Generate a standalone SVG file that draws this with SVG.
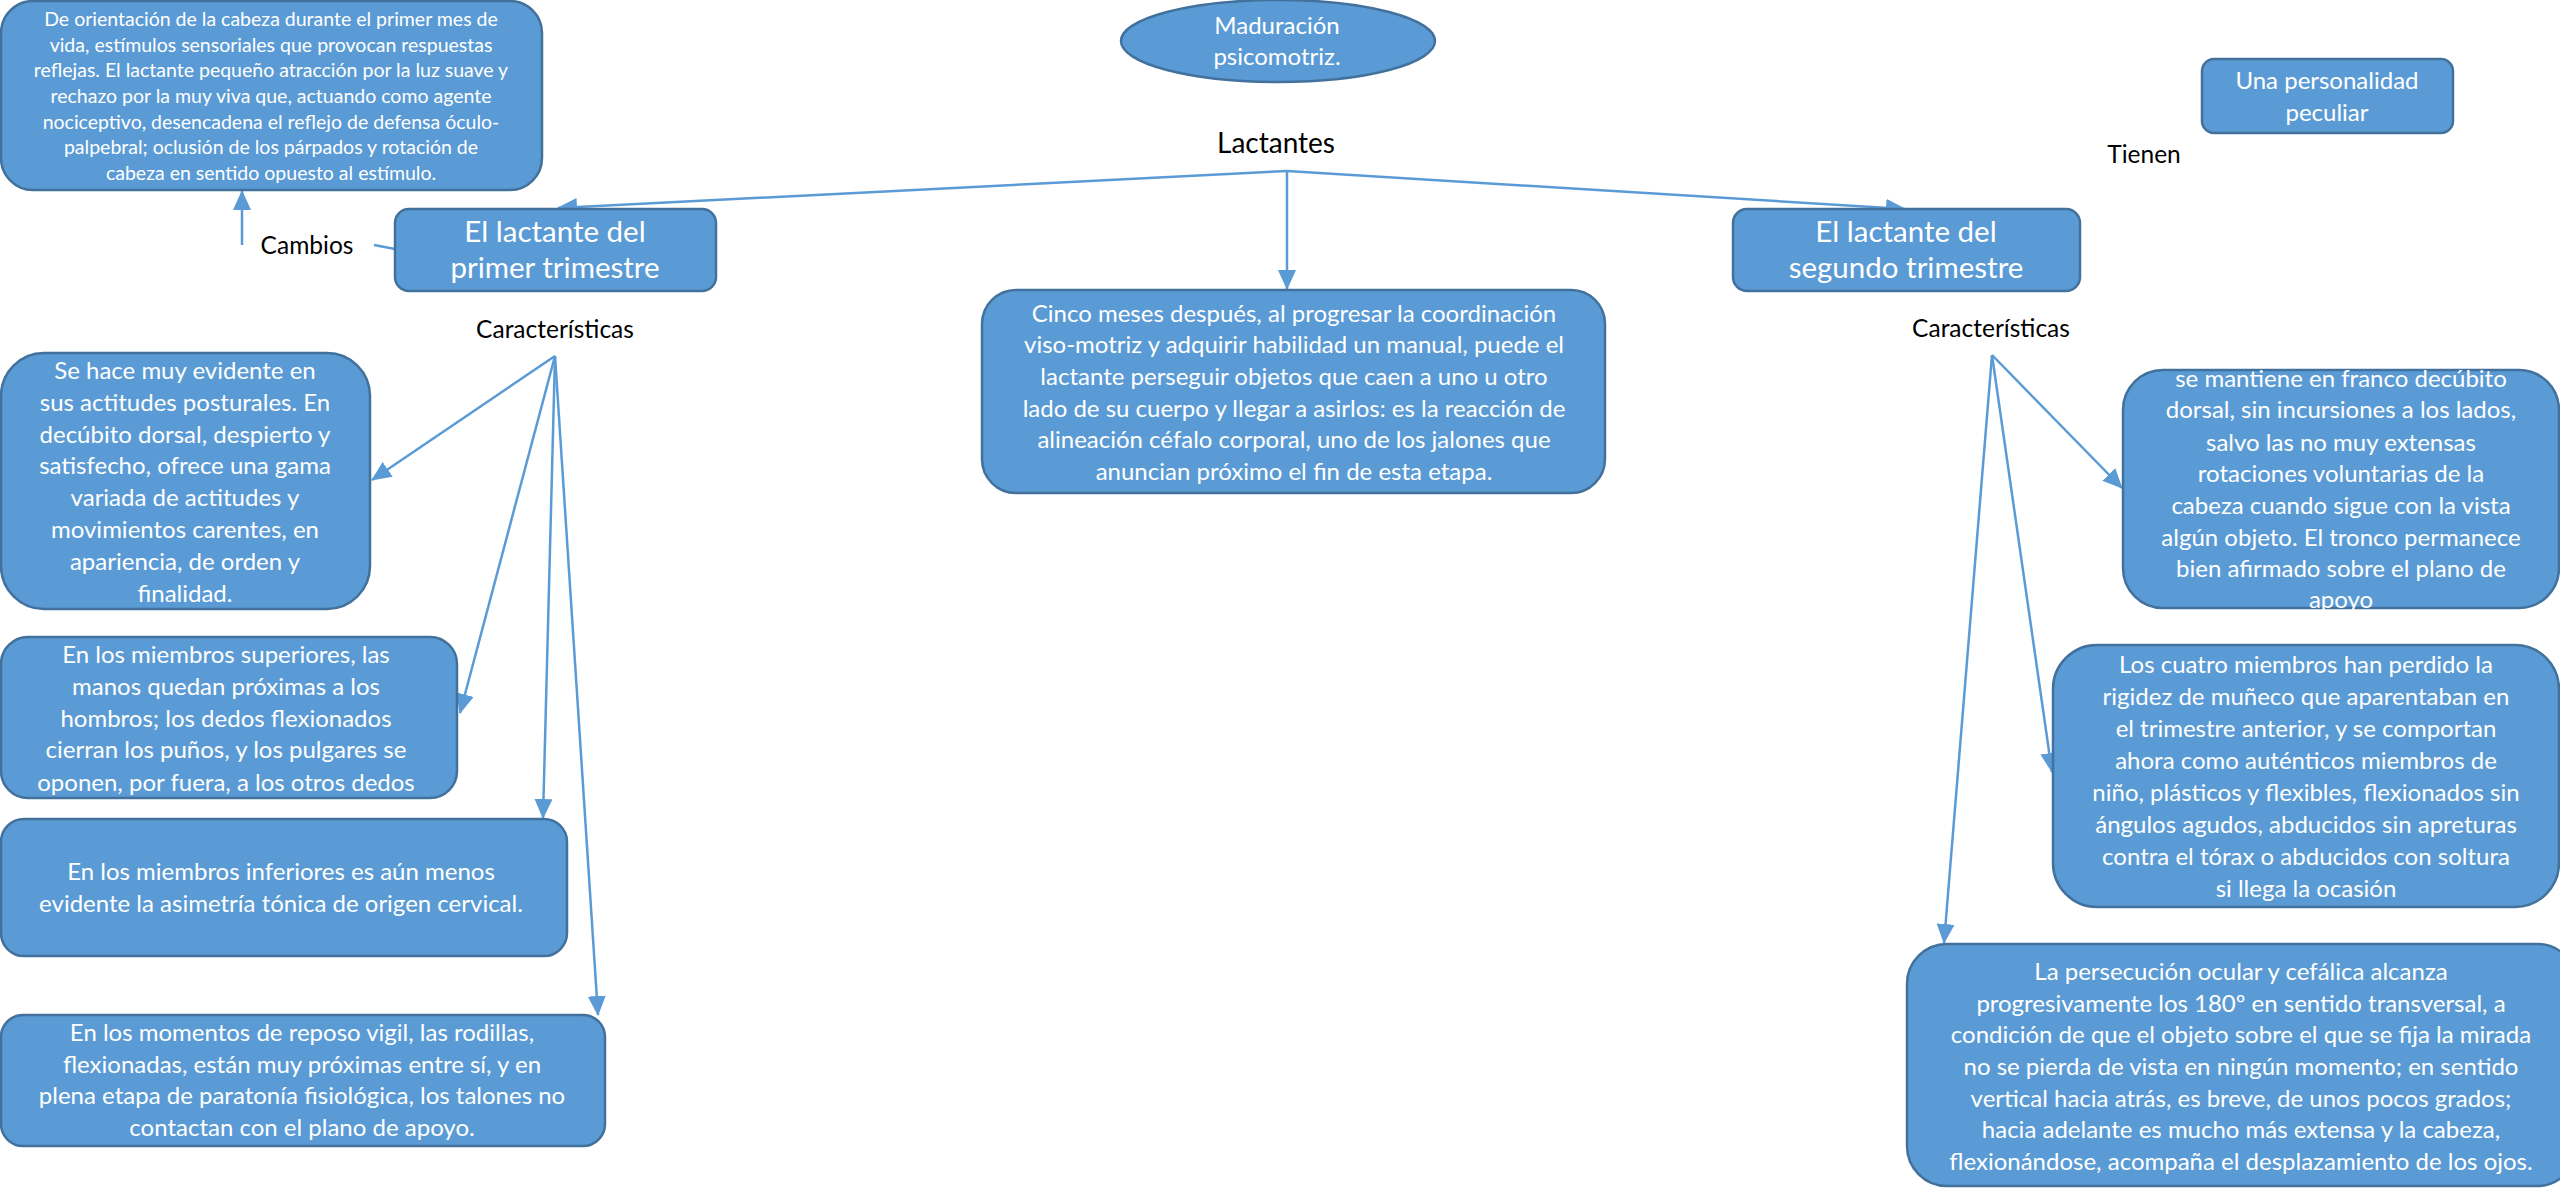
<svg xmlns="http://www.w3.org/2000/svg" width="2560" height="1188" viewBox="0 0 2560 1188">
<defs>
<marker id="ah" markerUnits="userSpaceOnUse" markerWidth="20" markerHeight="18" viewBox="0 0 20 18" refX="19" refY="9" orient="auto">
<path d="M0,0 L20,9 L0,18 Z" fill="#5B9BD5"/>
</marker>
<style>
.box{fill:#5B9BD5;stroke:#41719C;stroke-width:2.5}
.t{font-family:Lato,"Liberation Sans",sans-serif;fill:#FFFFFF;text-anchor:middle}
.b{font-size:24px}
.s{font-size:19.5px}
.h{font-size:29.5px}
.lbl{font-family:Lato,"Liberation Sans",sans-serif;fill:#000000;text-anchor:middle;font-size:24.5px}
.c{stroke:#5B9BD5;stroke-width:2.5;fill:none}
.a{marker-end:url(#ah)}
</style>
</defs>
<rect width="2560" height="1188" fill="#FFFFFF"/>

<g id="connectors">
<line class="c a" x1="1287" y1="171" x2="558" y2="208"/>
<line class="c a" x1="1287" y1="171" x2="1905" y2="209"/>
<line class="c a" x1="1287" y1="171" x2="1287" y2="289"/>
<line class="c" x1="374" y1="245" x2="395" y2="249"/>
<line class="c a" x1="242" y1="245" x2="242" y2="191"/>
<line class="c a" x1="555" y1="356" x2="372" y2="480"/>
<line class="c a" x1="555" y1="356" x2="460" y2="713"/>
<line class="c a" x1="555" y1="356" x2="543" y2="818"/>
<line class="c a" x1="555" y1="356" x2="598" y2="1015"/>
<line class="c a" x1="1992" y1="355" x2="2122" y2="488"/>
<line class="c a" x1="1992" y1="355" x2="2052" y2="772"/>
<line class="c a" x1="1992" y1="355" x2="1944" y2="943"/>
</g>

<g id="maduracion">
<ellipse class="box" cx="1278" cy="41" rx="157" ry="41"/>
<text class="t b" x="1277" y="34">Maduración</text>
<text class="t b" x="1277" y="65">psicomotriz.</text>
</g>

<g id="lactantes">
<text class="lbl" x="1276" y="153" style="font-size:28px">Lactantes</text>
</g>

<g id="orientacion">
<rect class="box" x="1" y="1" width="541" height="189" rx="32" ry="32"/>
<text class="t s" x="271" y="26">De orientación de la cabeza durante el primer mes de</text>
<text class="t s" x="271" y="52">vida, estímulos sensoriales que provocan respuestas</text>
<text class="t s" x="271" y="77">reflejas. El lactante pequeño atracción por la luz suave y</text>
<text class="t s" x="271" y="103">rechazo por la muy viva que, actuando como agente</text>
<text class="t s" x="271" y="129">nociceptivo, desencadena el reflejo de defensa óculo-</text>
<text class="t s" x="271" y="154">palpebral; oclusión de los párpados y rotación de</text>
<text class="t s" x="271" y="180">cabeza en sentido opuesto al estímulo.</text>
</g>

<g id="cambios">
<text class="lbl" x="307" y="254">Cambios</text>
</g>

<g id="primer-trimestre">
<rect class="box" x="395" y="209" width="321" height="82" rx="14" ry="14"/>
<text class="t h" x="555" y="242">El lactante del</text>
<text class="t h" x="555" y="278">primer trimestre</text>
</g>

<g id="segundo-trimestre">
<rect class="box" x="1733" y="209" width="347" height="82" rx="14" ry="14"/>
<text class="t h" x="1906" y="242">El lactante del</text>
<text class="t h" x="1906" y="278">segundo trimestre</text>
</g>

<g id="tienen">
<text class="lbl" x="2144" y="163">Tienen</text>
</g>

<g id="personalidad">
<rect class="box" x="2202" y="59" width="251" height="74" rx="12" ry="12"/>
<text class="t b" x="2327" y="89">Una personalidad</text>
<text class="t b" x="2327" y="121">peculiar</text>
</g>

<g id="caracteristicas-izq">
<text class="lbl" x="555" y="338">Características</text>
</g>

<g id="caracteristicas-der">
<text class="lbl" x="1991" y="337">Características</text>
</g>

<g id="cinco-meses">
<rect class="box" x="982" y="290" width="623" height="203" rx="34" ry="34"/>
<text class="t b" x="1294" y="322">Cinco meses después, al progresar la coordinación</text>
<text class="t b" x="1294" y="353">viso-motriz y adquirir habilidad un manual, puede el</text>
<text class="t b" x="1294" y="385">lactante perseguir objetos que caen a uno u otro</text>
<text class="t b" x="1294" y="417">lado de su cuerpo y llegar a asirlos: es la reacción de</text>
<text class="t b" x="1294" y="448">alineación céfalo corporal, uno de los jalones que</text>
<text class="t b" x="1294" y="480">anuncian próximo el fin de esta etapa.</text>
</g>

<g id="actitudes">
<rect class="box" x="1" y="353" width="369" height="256" rx="43" ry="43"/>
<text class="t b" x="185" y="379">Se hace muy evidente en</text>
<text class="t b" x="185" y="411">sus actitudes posturales. En</text>
<text class="t b" x="185" y="443">decúbito dorsal, despierto y</text>
<text class="t b" x="185" y="474">satisfecho, ofrece una gama</text>
<text class="t b" x="185" y="506">variada de actitudes y</text>
<text class="t b" x="185" y="538">movimientos carentes, en</text>
<text class="t b" x="185" y="570">apariencia, de orden y</text>
<text class="t b" x="185" y="602">finalidad.</text>
</g>

<g id="superiores">
<rect class="box" x="1" y="637" width="456" height="161" rx="27" ry="27"/>
<text class="t b" x="226" y="663">En los miembros superiores, las</text>
<text class="t b" x="226" y="695">manos quedan próximas a los</text>
<text class="t b" x="226" y="727">hombros; los dedos flexionados</text>
<text class="t b" x="226" y="758">cierran los puños, y los pulgares se</text>
<text class="t b" x="226" y="791">oponen, por fuera, a los otros dedos</text>
</g>

<g id="inferiores">
<rect class="box" x="1" y="819" width="566" height="137" rx="23" ry="23"/>
<text class="t b" x="281" y="880">En los miembros inferiores es aún menos</text>
<text class="t b" x="281" y="912">evidente la asimetría tónica de origen cervical.</text>
</g>

<g id="reposo">
<rect class="box" x="1" y="1015" width="604" height="131" rx="22" ry="22"/>
<text class="t b" x="302" y="1041">En los momentos de reposo vigil, las rodillas,</text>
<text class="t b" x="302" y="1073">flexionadas, están muy próximas entre sí, y en</text>
<text class="t b" x="302" y="1104">plena etapa de paratonía fisiológica, los talones no</text>
<text class="t b" x="302" y="1136">contactan con el plano de apoyo.</text>
</g>

<g id="decubito">
<rect class="box" x="2123" y="370" width="436" height="238" rx="40" ry="40"/>
<text class="t b" x="2341" y="387">se mantiene en franco decúbito</text>
<text class="t b" x="2341" y="418">dorsal, sin incursiones a los lados,</text>
<text class="t b" x="2341" y="451">salvo las no muy extensas</text>
<text class="t b" x="2341" y="482">rotaciones voluntarias de la</text>
<text class="t b" x="2341" y="514">cabeza cuando sigue con la vista</text>
<text class="t b" x="2341" y="546">algún objeto. El tronco permanece</text>
<text class="t b" x="2341" y="577">bien afirmado sobre el plano de</text>
<text class="t b" x="2341" y="608">apoyo</text>
</g>

<g id="cuatro-miembros">
<rect class="box" x="2053" y="645" width="506" height="262" rx="44" ry="44"/>
<text class="t b" x="2306" y="673">Los cuatro miembros han perdido la</text>
<text class="t b" x="2306" y="705">rigidez de muñeco que aparentaban en</text>
<text class="t b" x="2306" y="737">el trimestre anterior, y se comportan</text>
<text class="t b" x="2306" y="769">ahora como auténticos miembros de</text>
<text class="t b" x="2306" y="801">niño, plásticos y flexibles, flexionados sin</text>
<text class="t b" x="2306" y="833">ángulos agudos, abducidos sin apreturas</text>
<text class="t b" x="2306" y="865">contra el tórax o abducidos con soltura</text>
<text class="t b" x="2306" y="897">si llega la ocasión</text>
</g>

<g id="persecucion">
<rect class="box" x="1907" y="944" width="670" height="242" rx="40" ry="40"/>
<text class="t b" x="2241" y="980">La persecución ocular y cefálica alcanza</text>
<text class="t b" x="2241" y="1012">progresivamente los 180º en sentido transversal, a</text>
<text class="t b" x="2241" y="1043">condición de que el objeto sobre el que se fija la mirada</text>
<text class="t b" x="2241" y="1075">no se pierda de vista en ningún momento; en sentido</text>
<text class="t b" x="2241" y="1107">vertical hacia atrás, es breve, de unos pocos grados;</text>
<text class="t b" x="2241" y="1138">hacia adelante es mucho más extensa y la cabeza,</text>
<text class="t b" x="2241" y="1170">flexionándose, acompaña el desplazamiento de los ojos.</text>
</g>
</svg>
